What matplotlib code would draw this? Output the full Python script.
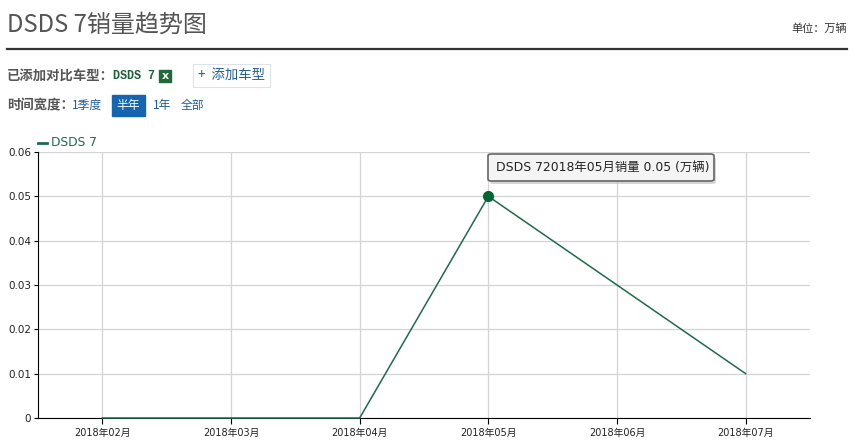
import matplotlib.pyplot as plt
from matplotlib.patches import FancyBboxPatch, Rectangle
from matplotlib.lines import Line2D

# data
months = ['2018年02月', '2018年03月', '2018年04月', '2018年05月', '2018年06月', '2018年07月']
sales = [0, 0, 0, 0.05, 0.03, 0.01]
y_ticks = [0, 0.01, 0.02, 0.03, 0.04, 0.05, 0.06]
y_labels = ['0', '0.01', '0.02', '0.03', '0.04', '0.05', '0.06']
series_name = 'DSDS 7'
hover_idx = 3

W, H = 854, 441
FONTS = ['DejaVu Sans', 'Noto Sans CJK SC']
CJK = ['Noto Sans CJK SC', 'DejaVu Sans']
GREEN = '#1e6b4c'

plt.rcParams['font.family'] = FONTS

fig = plt.figure(figsize=(W / 100, H / 100), dpi=100)


def fx(px):
    return px / W


def fy(py):
    return 1 - py / H


# header
fig.text(fx(7), fy(25), 'DSDS 7销量趋势图', fontsize=17.3, color='#555555',
         family=CJK, va='center', ha='left', fontweight='light')
fig.text(fx(847), fy(29), '单位：万辆', fontsize=8, color='#333333',
         family=CJK, va='center', ha='right')
fig.add_artist(Line2D([fx(7), fx(847)], [fy(49), fy(49)], color='#333333', lw=1.6))

# compare row
fig.text(fx(7), fy(76), '已添加对比车型：', fontsize=9.6, color='#555555',
         family=CJK, va='center', fontweight='bold')
fig.text(fx(113), fy(76), 'DSDS 7', fontsize=8.5, color='#1e5e3a',
         family='Liberation Mono', va='center', fontweight='bold')
fig.add_artist(Rectangle((fx(159), fy(82)), fx(12), 12 / H, color='#1e6b3a'))
fig.text(fx(165), fy(76), 'x', fontsize=8, color='white', va='center', ha='center',
         fontweight='bold')
fig.add_artist(Rectangle((fx(193), fy(87)), fx(77), 23 / H, facecolor='white',
                         edgecolor='#dde3ea', lw=0.8))
fig.text(fx(198), fy(75), '+  添加车型', fontsize=9.6, color='#1f5f9a',
         family=CJK, va='center')

# time range row
fig.text(fx(7), fy(105), '时间宽度：', fontsize=9.6, color='#555555',
         family=CJK, va='center', fontweight='bold')
fig.text(fx(72), fy(105), '1季度', fontsize=8.5, color='#1f5f9a', family=CJK, va='center')
fig.add_artist(Rectangle((fx(112), fy(116)), fx(33), 21 / H, color='#1565b0'))
fig.text(fx(128.5), fy(105), '半年', fontsize=8.5, color='white', family=CJK,
         va='center', ha='center')
fig.text(fx(153), fy(105), '1年', fontsize=8.5, color='#1f5f9a', family=CJK, va='center')
fig.text(fx(181), fy(105), '全部', fontsize=8.5, color='#1f5f9a', family=CJK, va='center')

# chart
ax = fig.add_axes([fx(38), 1 - 418 / H, 772 / W, 266 / H])
x = list(range(len(months)))
ax.plot(x, sales, color=GREEN, lw=1.1, zorder=3, clip_on=False)
ax.plot(x[hover_idx], sales[hover_idx], 'o', color='#006633', ms=7, zorder=4,
        clip_on=False)

ax.set_xlim(-0.5, len(months) - 0.5)
ax.set_ylim(0, 0.06)
ax.set_xticks(x)
ax.set_xticklabels(months, fontsize=7, color='#222222', family=FONTS)
ax.set_yticks(y_ticks)
ax.set_yticklabels(y_labels, fontsize=7.5, color='#222222')
ax.grid(True, color='#d4d4d4', lw=0.9)
ax.set_axisbelow(True)
for s in ['top', 'right']:
    ax.spines[s].set_visible(False)
ax.spines['left'].set_color('black')
ax.spines['bottom'].set_color('black')
ax.tick_params(axis='x', length=4, width=0.8, pad=3)
ax.tick_params(axis='y', length=3, width=0.8, pad=2)

# legend
fig.add_artist(Line2D([fx(38), fx(47)], [fy(143), fy(143)], color=GREEN, lw=2))
fig.text(fx(51), fy(143), series_name, fontsize=8.8, color=GREEN, va='center')

# tooltip
shadow = FancyBboxPatch((fx(490), fy(184)), fx(226), 27 / H,
                        boxstyle='round,pad=0,rounding_size=0.004',
                        facecolor='#bbbbbb', edgecolor='none', alpha=0.6,
                        transform=fig.transFigure)
fig.add_artist(shadow)
tip = FancyBboxPatch((fx(488), fy(181)), fx(226), 27 / H,
                     boxstyle='round,pad=0,rounding_size=0.004',
                     facecolor='#f4f4f4', edgecolor='#666666', lw=1.2,
                     transform=fig.transFigure)
fig.add_artist(tip)
tip_text = f'{series_name}{months[hover_idx]}销量 {sales[hover_idx]:.2f} (万辆)'
fig.text(fx(496), fy(167), tip_text, fontsize=8.9, color='#222222',
         family=FONTS, va='center')

fig.savefig('out.png', dpi=100)
